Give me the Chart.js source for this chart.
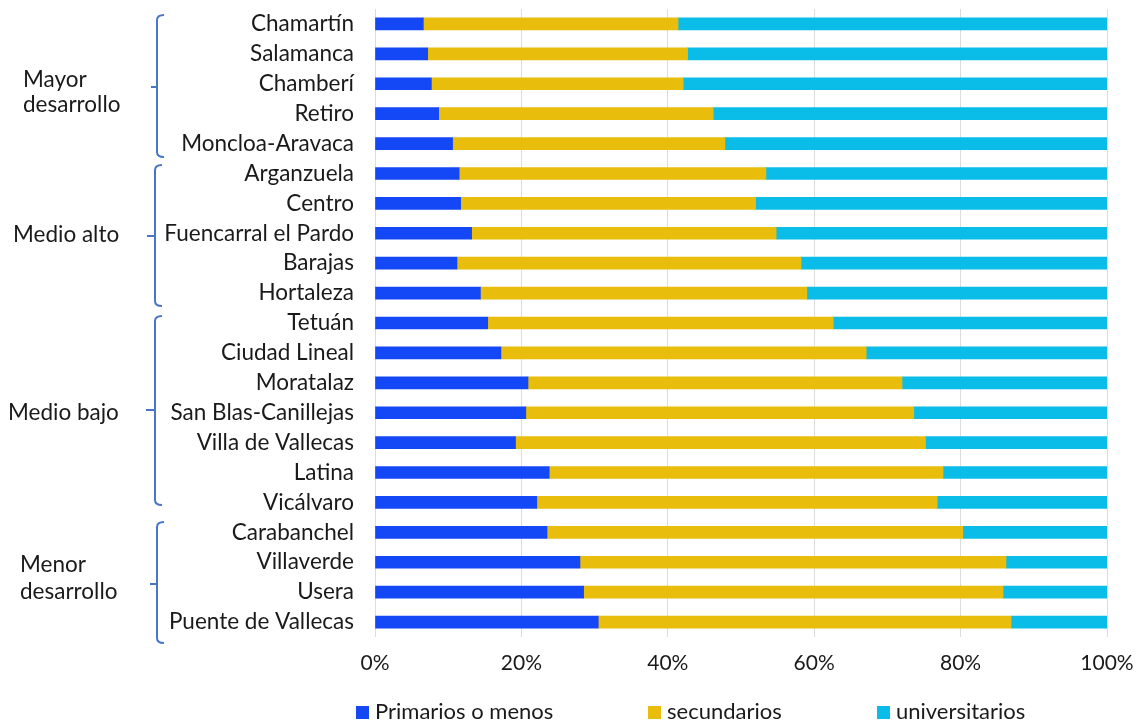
<!DOCTYPE html>
<html>
<head>
<meta charset="utf-8">
<script src="https://cdn.jsdelivr.net/npm/chart.js@4.4.1/dist/chart.umd.min.js"></script>
<style>
html,body{margin:0;padding:0;background:#fff;}
#wrap{width:1137px;height:721px;position:relative;}
</style>
</head>
<body>
<div id="wrap"><canvas id="c" width="1137" height="721"></canvas></div>
<script>
const categories = ["Chamartín","Salamanca","Chamberí","Retiro","Moncloa-Aravaca","Arganzuela","Centro","Fuencarral el Pardo","Barajas","Hortaleza","Tetuán","Ciudad Lineal","Moratalaz","San Blas-Canillejas","Villa de Vallecas","Latina","Vicálvaro","Carabanchel","Villaverde","Usera","Puente de Vallecas"];
const primarios = [6.6,7.2,7.7,8.7,10.6,11.5,11.7,13.2,11.2,14.4,15.4,17.2,20.9,20.6,19.2,23.8,22.1,23.5,28.0,28.5,30.5];
const secundarios = [34.8,35.5,34.4,37.5,37.2,41.9,40.3,41.6,47.0,44.6,47.2,49.9,51.1,53.0,56.0,53.8,54.7,56.8,58.2,57.3,56.4];
const universitarios = [58.6,57.3,57.9,53.8,52.2,46.6,48.0,45.2,41.8,41.0,37.4,32.9,28.0,26.4,24.8,22.4,23.2,19.7,13.8,14.2,13.1];
const xTicks = [0,20,40,60,80,100];
const seriesNames = ["Primarios o menos","secundarios","universitarios"];
const seriesColors = ["#1447F5","#E8BD0B","#0ABDE8"];
const groups = [
  {lines:["Mayor","desarrollo"], x:23, ys:[87,112], top:15, bottom:157, mid:87, vx:157, tip:151},
  {lines:["Medio alto"], x:13, ys:[242], top:165, bottom:306, mid:236, vx:155, tip:147},
  {lines:["Medio bajo"], x:8, ys:[420], top:316, bottom:505, mid:410, vx:155, tip:146},
  {lines:["Menor","desarrollo"], x:20, ys:[572,599], top:522, bottom:643, mid:584, vx:157, tip:150}
];
const FONT = "Lato, 'Noto Sans', sans-serif";

function zeroPad(s){ s.paddingTop = 0; s.paddingBottom = 0; s.paddingLeft = 0; s.paddingRight = 0; }

const decor = {
  id:'decor',
  afterDraw(chart){
    const ctx = chart.ctx;
    ctx.save();
    ctx.strokeStyle = '#4A76C9';
    ctx.lineWidth = 2;
    groups.forEach(g=>{
      const r = 5;
      ctx.beginPath();
      ctx.moveTo(g.vx+7, g.top);
      ctx.quadraticCurveTo(g.vx, g.top, g.vx, g.top+r);
      ctx.lineTo(g.vx, g.bottom-r);
      ctx.quadraticCurveTo(g.vx, g.bottom, g.vx+7, g.bottom);
      ctx.stroke();
      ctx.beginPath();
      ctx.moveTo(g.vx, g.mid);
      ctx.lineTo(g.tip, g.mid);
      ctx.stroke();
      ctx.fillStyle = '#1a1a1a';
      ctx.font = "22.5px " + FONT;
      ctx.textAlign = 'left';
      ctx.textBaseline = 'alphabetic';
      g.lines.forEach((t,i)=>ctx.fillText(t, g.x, g.ys[i]));
    });
    const lx = [356, 648, 877];
    ctx.font = "22px " + FONT;
    ctx.textBaseline = 'alphabetic';
    chart.data.datasets.forEach((ds,i)=>{
      ctx.fillStyle = ds.backgroundColor;
      ctx.fillRect(lx[i], 706, 13, 13);
      ctx.fillStyle = '#1a1a1a';
      ctx.fillText(ds.label, lx[i]+19, 719);
    });
    ctx.restore();
  }
};

new Chart(document.getElementById('c'), {
  type:'bar',
  data:{
    labels: categories,
    datasets:[
      {label:seriesNames[0], data:primarios, backgroundColor:seriesColors[0]},
      {label:seriesNames[1], data:secundarios, backgroundColor:seriesColors[1]},
      {label:seriesNames[2], data:universitarios, backgroundColor:seriesColors[2]}
    ]
  },
  options:{
    indexAxis:'y',
    responsive:false,
    animation:false,
    layout:{padding:{top:9,right:30,bottom:46,left:0}},
    datasets:{bar:{barThickness:12, borderWidth:0}},
    plugins:{legend:{display:false}, tooltip:{enabled:false}},
    scales:{
      x:{
        stacked:true, min:0, max:100,
        afterBuildTicks(s){ s.ticks = xTicks.map(v=>({value:v})); },
        ticks:{callback:v=>v+'%', font:{family:FONT,size:21}, color:'#1a1a1a', padding:14, maxRotation:0},
        grid:{color:'#dcdcdc', lineWidth:1, drawTicks:false},
        border:{display:false},
        afterFit(s){ s.height = 38; zeroPad(s); }
      },
      y:{
        stacked:true,
        ticks:{font:{family:FONT,size:22.5}, color:'#1a1a1a', padding:21, autoSkip:false},
        grid:{display:false, drawTicks:false},
        border:{display:false},
        afterFit(s){ s.width = 375; zeroPad(s); }
      }
    }
  },
  plugins:[decor]
});
</script>
</body>
</html>
